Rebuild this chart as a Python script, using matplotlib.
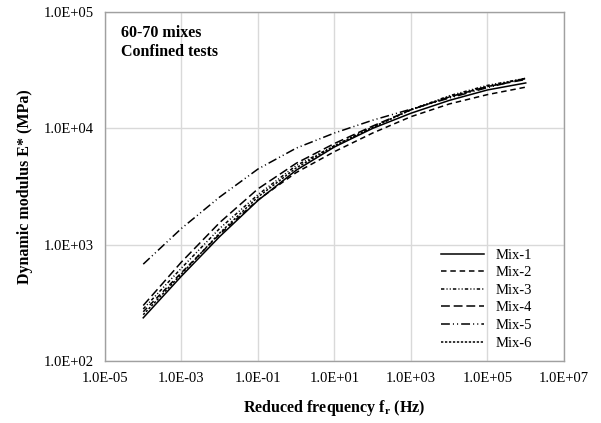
import matplotlib
matplotlib.use("Agg")
import matplotlib.pyplot as plt
from matplotlib.ticker import FixedLocator, FuncFormatter, NullLocator

plt.rcParams["font.family"] = ["Liberation Serif", "DejaVu Serif"]

# reduced frequency (Hz) and dynamic modulus E* (MPa)
freq_hz = [1e-4, 1e-3, 1e-2, 1e-1, 1e0, 1e1, 1e2, 1e3, 1e4, 1e5, 1e6]
mix1 = [235, 537, 1175, 2400, 4365, 6920, 10000, 13490, 17380, 21380, 24550]
mix2 = [265, 575, 1230, 2430, 4170, 6310, 9120, 12600, 16200, 19500, 22600]
mix3 = [280, 630, 1380, 2690, 4790, 7080, 10230, 14450, 19050, 23400, 26900]
mix4 = [300, 710, 1550, 3020, 5010, 7410, 10470, 14450, 18600, 22900, 26300]
mix5 = [680, 1380, 2570, 4470, 6760, 9120, 11750, 14620, 18200, 22400, 26900]
mix6 = [250, 560, 1260, 2570, 4570, 7080, 10230, 14450, 18600, 22900, 26900]

labels = ["Mix-1", "Mix-2", "Mix-3", "Mix-4", "Mix-5", "Mix-6"]
styles = [
    "-",
    (0, (3.6, 2.5)),
    (0, (2.2, 1.4, 0.7, 1.4, 0.7, 1.4)),
    (0, (5.8, 2.5)),
    (0, (5.8, 2.0, 0.7, 2.0, 0.7, 2.0)),
    (0, (1.5, 1.1)),
]


def sci_label(v, pos):
    return f"{v:.1E}"


def main() -> None:
    fig = plt.figure(figsize=(6.01, 4.23), dpi=100)
    ax = fig.add_axes([0.1747, 0.1466, 0.7637, 0.8250])

    for y, lab, ls in zip([mix1, mix2, mix3, mix4, mix5, mix6], labels, styles):
        ax.plot(freq_hz, y, color="black", linestyle=ls, linewidth=1.1, label=lab)

    ax.set_xscale("log")
    ax.set_yscale("log")
    ax.set_xlim(1e-5, 1e7)
    ax.set_ylim(1e2, 1e5)
    ax.xaxis.set_major_locator(FixedLocator([1e-5, 1e-3, 1e-1, 1e1, 1e3, 1e5, 1e7]))
    ax.yaxis.set_major_locator(FixedLocator([1e2, 1e3, 1e4, 1e5]))
    ax.xaxis.set_minor_locator(NullLocator())
    ax.yaxis.set_minor_locator(NullLocator())
    ax.xaxis.set_major_formatter(FuncFormatter(sci_label))
    ax.yaxis.set_major_formatter(FuncFormatter(sci_label))
    ax.tick_params(length=0, labelsize=10.5, pad=8)
    ax.grid(True, color="#d9d9d9", linewidth=1.0)
    ax.set_axisbelow(True)
    for sp in ax.spines.values():
        sp.set_color("#a0a0a0")
        sp.set_linewidth(1.0)

    ax.set_xlabel("Reduced frequency f$_\\mathregular{r}$ (Hz)", fontsize=11.5, fontweight="bold", labelpad=9)
    ax.set_ylabel("Dynamic modulus E* (MPa)", fontsize=11.5, fontweight="bold", labelpad=8)

    ax.text(0.035, 0.962, "60-70 mixes\nConfined tests", transform=ax.transAxes,
            ha="left", va="top", fontsize=11.5, fontweight="bold", linespacing=1.2)

    ax.legend(loc="lower right", bbox_to_anchor=(0.96, -0.005), frameon=False, fontsize=10.5,
              handlelength=2.95, handletextpad=0.85, labelspacing=0.3)

    fig.savefig("out.png", dpi=100)
    plt.close(fig)


if __name__ == "__main__":
    main()
